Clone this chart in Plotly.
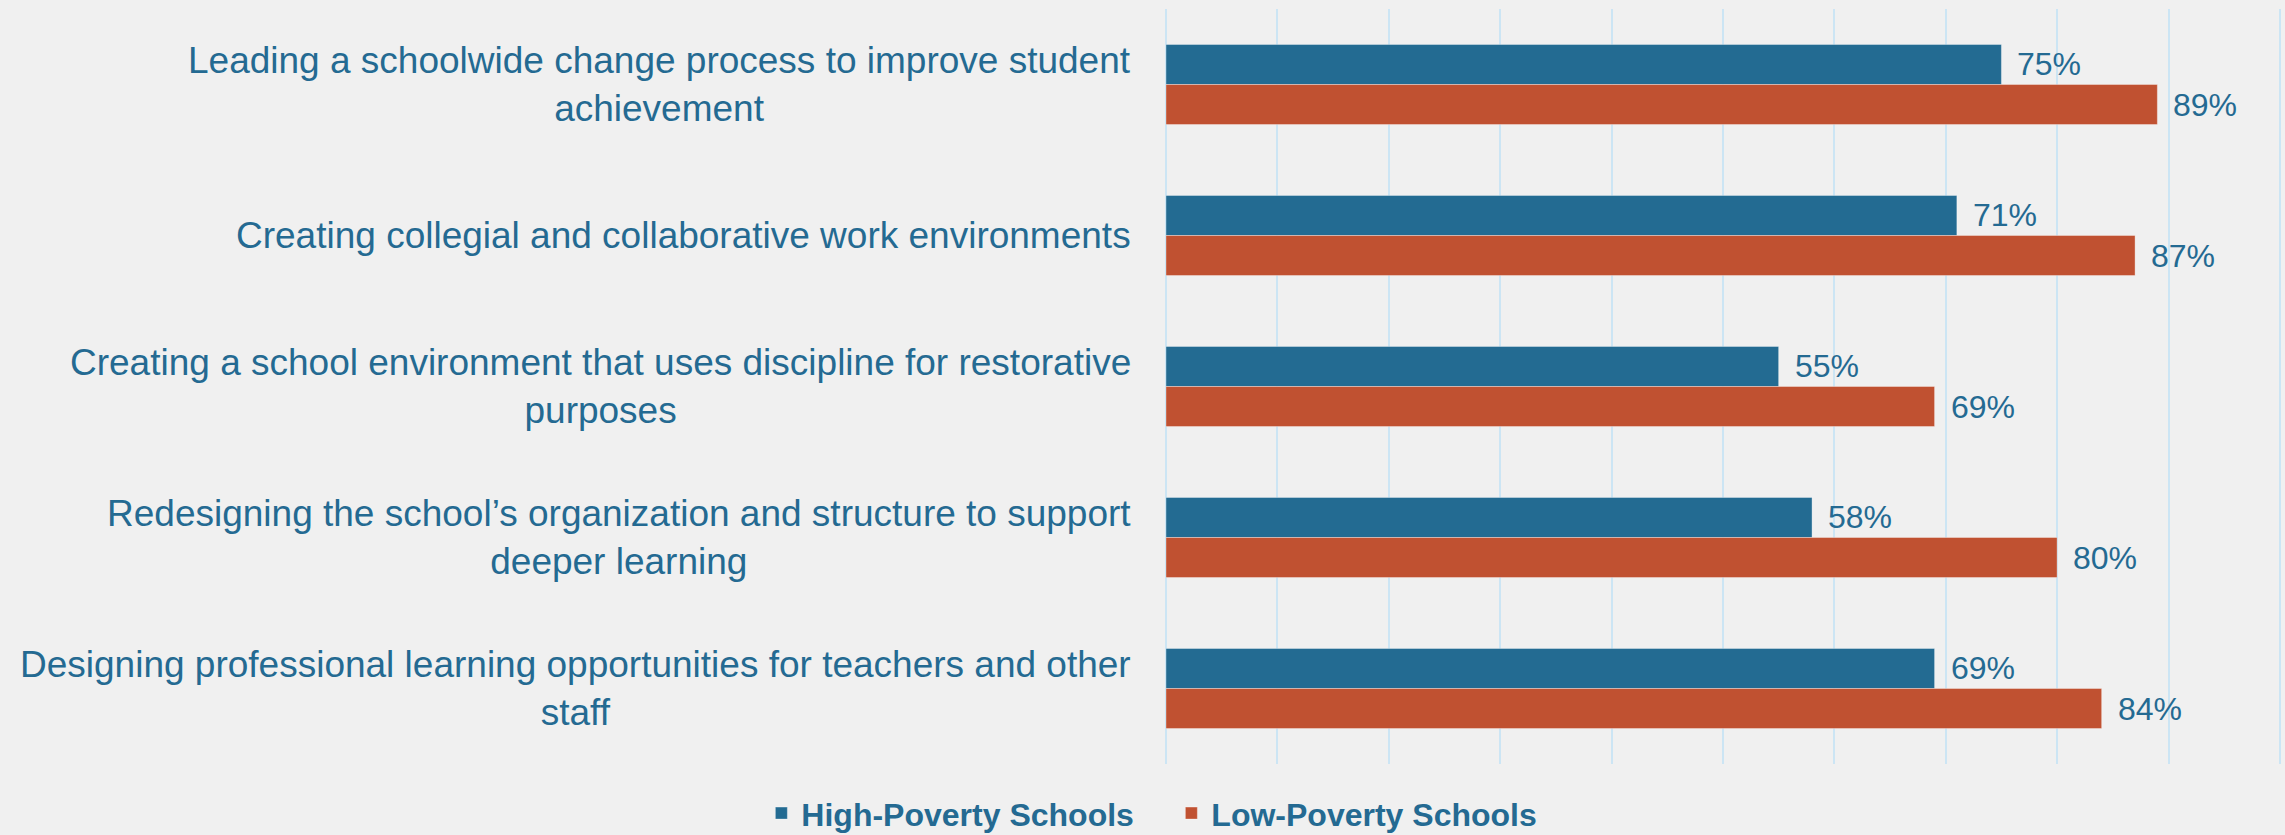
import plotly.graph_objects as go

# Survey items (top to bottom) and share of principals in each school group
categories = [
    "Leading a schoolwide change process to improve student<br>achievement",
    "Creating collegial and collaborative work environments",
    "Creating a school environment that uses discipline for restorative<br>purposes",
    "Redesigning the school\u2019s organization and structure to support<br>deeper learning",
    "Designing professional learning opportunities for teachers and other<br>staff",
]
high_poverty = [0.75, 0.71, 0.55, 0.58, 0.69]
low_poverty = [0.89, 0.87, 0.69, 0.80, 0.84]
series_names = ["High-Poverty Schools", "Low-Poverty Schools"]

BLUE = "#236B92"
ORANGE = "#C05131"
TEXT = "#246A92"
GRID = "#CCE5F4"
BG = "#F0F0F0"
FONT = "Liberation Sans, Arial, sans-serif"

BARGAP = 0.47
bar_w = (1 - BARGAP) / 2

pos = list(range(len(categories)))

fig = go.Figure()
for name, vals, col in [(series_names[0], high_poverty, BLUE),
                        (series_names[1], low_poverty, ORANGE)]:
    fig.add_trace(go.Bar(
        name=name, y=pos, x=vals, orientation="h",
        marker=dict(color=col, line=dict(color="rgba(255,255,255,0.35)", width=1)),
        hoverinfo="skip",
    ))

annotations = []
# category labels, centred text block right-aligned against the axis
for i, cat in enumerate(categories):
    annotations.append(dict(
        xref="paper", x=0, xanchor="right", xshift=-33,
        yref="y", y=i, yanchor="middle",
        text=cat, align="center", showarrow=False,
        font=dict(family=FONT, size=37, color=TEXT),
    ))
# value labels to the right of each bar
for k, vals in enumerate([high_poverty, low_poverty]):
    off = -bar_w / 2 if k == 0 else bar_w / 2
    for i, v in enumerate(vals):
        annotations.append(dict(
            xref="x", x=v, xanchor="left", xshift=14,
            yref="y", y=i + off, yanchor="middle",
            text=f"{round(v * 100)}%", showarrow=False,
            font=dict(family=FONT, size=32, color=TEXT),
        ))

fig.update_layout(
    width=2285, height=835,
    margin=dict(l=1166, r=4, t=9, b=71),
    paper_bgcolor=BG, plot_bgcolor="rgba(0,0,0,0)",
    barmode="group", bargap=BARGAP, bargroupgap=0,
    font=dict(family=FONT, color=TEXT),
    xaxis=dict(range=[0, 1.001], dtick=0.1, showticklabels=False,
               showgrid=True, gridcolor=GRID, gridwidth=2,
               zeroline=True, zerolinecolor=GRID, zerolinewidth=2,
               showline=False, fixedrange=True),
    yaxis=dict(range=[len(categories) - 0.5, -0.5], showticklabels=False,
               showgrid=False, zeroline=False, showline=False, fixedrange=True),
    legend=dict(orientation="h", xref="container", yref="container",
                x=0.3332, xanchor="left", y=0.026, yanchor="middle",
                entrywidth=365, entrywidthmode="pixels",
                font=dict(family=FONT, size=32, color=TEXT, weight="bold"),
                bgcolor="rgba(0,0,0,0)"),
    annotations=annotations,
)

fig.write_html("out.html")
